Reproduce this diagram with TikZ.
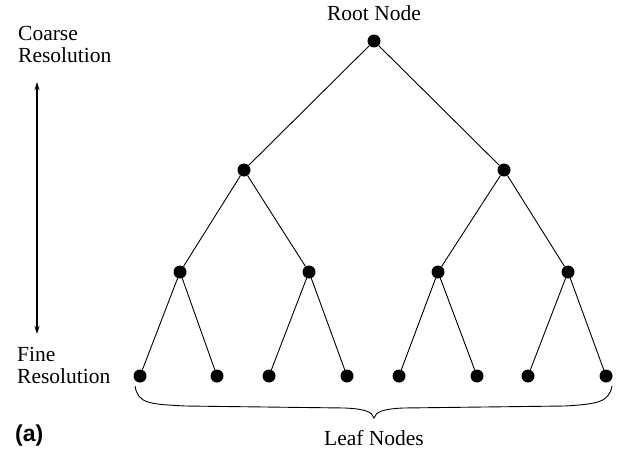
\documentclass[tikz,border=0pt]{standalone}
\usepackage{fontspec}
\setmainfont{Liberation Serif}
\newfontfamily\labelsans{Liberation Sans}
\usepackage{tikz}
\usetikzlibrary{arrows.meta}

\tikzset{
  treenode/.style={circle, fill=black, inner sep=0pt, minimum size=13pt},
  branch/.style={line width=0.9pt},
  caption/.style={font=\fontsize{21.5}{21.5}\selectfont, inner sep=0pt},
}

\begin{document}
\begin{tikzpicture}[x=1pt, y=-1pt]
  \useasboundingbox (0,0) rectangle (617,452);
  % Tree nodes, level by level
  \node[treenode] (root) at (374,41) {};
  \node[treenode] (l) at (244,170) {};
  \node[treenode] (r) at (504,170) {};
  \node[treenode] (ll) at (180,272) {};
  \node[treenode] (lr) at (309,272) {};
  \node[treenode] (rl) at (438,272) {};
  \node[treenode] (rr) at (568,272) {};
  \node[treenode] (lll) at (140,376) {};
  \node[treenode] (llr) at (217,376) {};
  \node[treenode] (lrl) at (269,376) {};
  \node[treenode] (lrr) at (347,376) {};
  \node[treenode] (rll) at (399,376) {};
  \node[treenode] (rlr) at (477,376) {};
  \node[treenode] (rrl) at (528,376) {};
  \node[treenode] (rrr) at (606,376) {};
  % Branches
  \draw[branch] (root) -- (l);
  \draw[branch] (root) -- (r);
  \draw[branch] (l) -- (ll);
  \draw[branch] (l) -- (lr);
  \draw[branch] (r) -- (rl);
  \draw[branch] (r) -- (rr);
  \draw[branch] (ll) -- (lll);
  \draw[branch] (ll) -- (llr);
  \draw[branch] (lr) -- (lrl);
  \draw[branch] (lr) -- (lrr);
  \draw[branch] (rl) -- (rll);
  \draw[branch] (rl) -- (rlr);
  \draw[branch] (rr) -- (rrl);
  \draw[branch] (rr) -- (rrr);
  % Labels
  \node[caption, anchor=base] (rootlabel) at (374,21) {Root Node};
  \node[caption, anchor=base west, align=left] (coarse) at (18,62) {Coarse\\Resolution};
  \node[caption, anchor=base west, align=left] (fine) at (17,383) {Fine\\Resolution};
  \node[caption, anchor=base] (leaflabel) at (374,445) {Leaf Nodes};
  \node[inner sep=0pt, anchor=base west, font=\labelsans\bfseries\fontsize{23}{23}\selectfont] (tag) at (15,441) {(a)};
  % Resolution arrow
  \coordinate (top) at (37,82);
  \coordinate (bottom) at (37,334);
  \draw[line width=1.8pt, {Stealth[length=8pt,width=5pt]}-{Stealth[length=8pt,width=5pt]}] (top) -- (bottom);
  % Brace under the leaves
  \draw[line width=0.9pt] (135,386) .. controls (138,404) and (150,404) .. (185,406)
    -- (345,408) .. controls (366,409) and (372,412) .. (374,418)
    .. controls (376,412) and (382,409) .. (403,408)
    -- (565,406) .. controls (598,404) and (609,402) .. (612,386);
\end{tikzpicture}
\end{document}
